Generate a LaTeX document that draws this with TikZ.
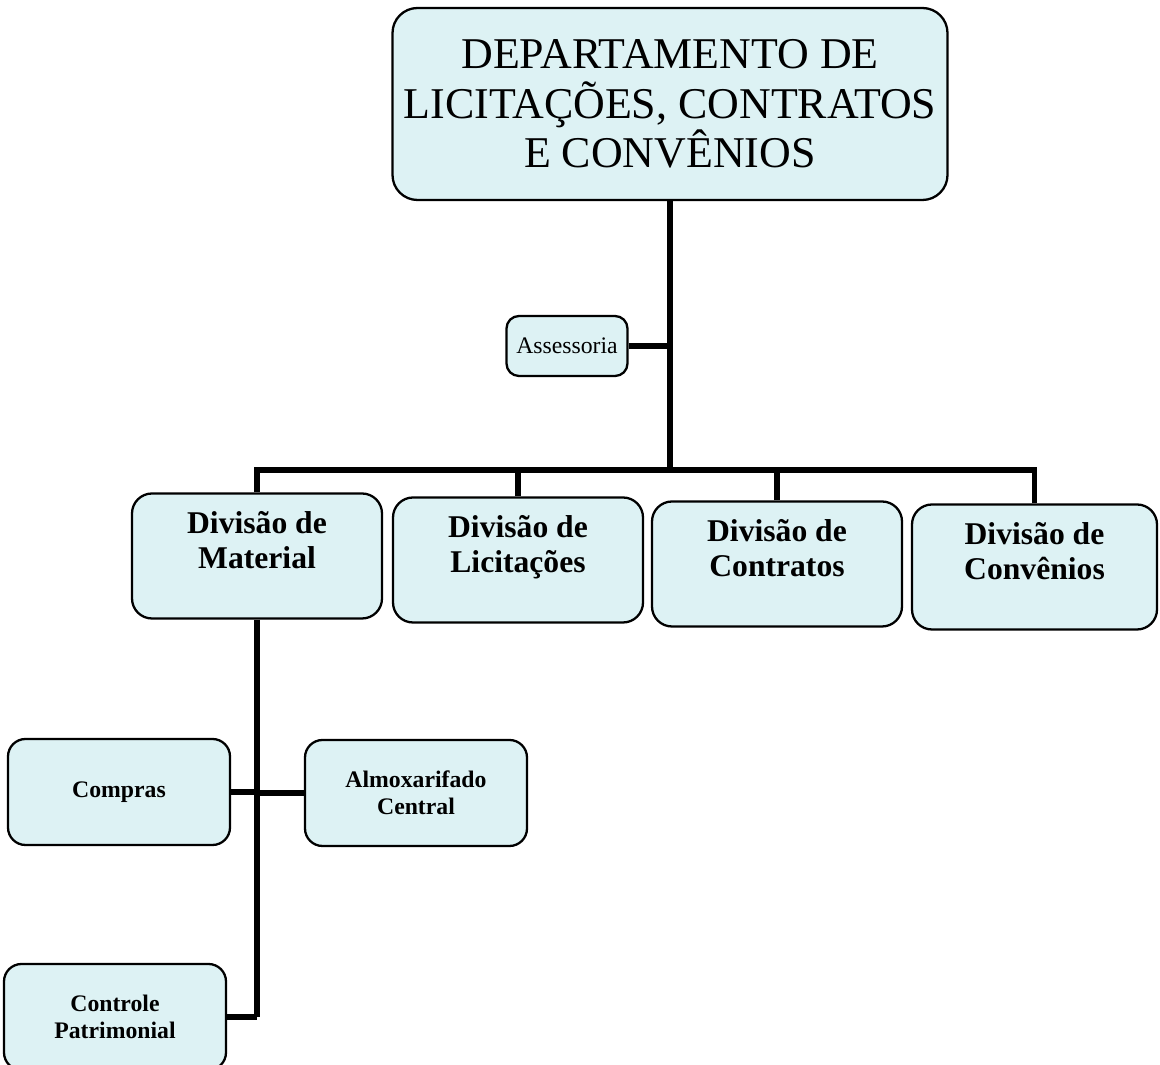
\documentclass[tikz,border=0pt]{standalone}
\usepackage{fontspec}
\setmainfont{Liberation Serif}
\usetikzlibrary{positioning}
\definecolor{boxfill}{RGB}{221,242,244}

\begin{document}
\begin{tikzpicture}[
		box/.style={draw,fill=boxfill,line width=1.3pt,align=center,inner sep=0pt},
		topbox/.style={box,rounded corners=0.5cm,minimum width=11.1cm,minimum height=3.84cm,font=\fontsize{25}{28}\selectfont},
		assbox/.style={box,rounded corners=0.25cm,minimum width=2.42cm,minimum height=1.2cm,font=\fontsize{13.5}{15}\selectfont},
		divbox/.style={box,rounded corners=0.4cm,minimum width=5cm,minimum height=2.5cm,text depth=0.65cm,font=\bfseries\fontsize{18}{20}\selectfont},
		subbox/.style={box,rounded corners=0.35cm,minimum width=4.44cm,minimum height=2.12cm,font=\bfseries\fontsize{13.5}{15.5}\selectfont},
		conn/.style={line width=2.9pt}]
		
		\useasboundingbox (0,0) rectangle (23.2,21.3);
		
		\coordinate (bar) at (0,11.9);
		
		\node[topbox] (dep) at (13.4,19.22) {DEPARTAMENTO DE\\LICITAÇÕES, CONTRATOS\\E CONVÊNIOS};
		\node[assbox] (ass) at (11.34,14.38) {Assessoria};
		
		\node[divbox] (mat) at (5.14,10.18) {Divisão de\\Material};
		\node[divbox] (lic) at (10.36,10.10) {Divisão de\\Licitações};
		\node[divbox] (con) at (15.54,10.02) {Divisão de\\Contratos};
		\node[divbox,minimum width=4.9cm] (cvn) at (20.69,9.96) {Divisão de\\Convênios};
		
		\node[subbox] (comp) at (2.38,5.46) {Compras};
		\node[subbox] (alm) at (8.32,5.44) {Almoxarifado\\Central};
		\node[subbox] (pat) at (2.30,0.96) {Controle\\Patrimonial};
		
		% tronco
		\draw[conn] (dep.south) -- (dep.south |- bar);
		\draw[conn] (ass.east) -- (ass.east -| dep.south);
		\draw[conn] (mat.north) |- (dep.south |- bar);
		\draw[conn] (lic.north) |- (dep.south |- bar);
		\draw[conn] (con.north) |- (dep.south |- bar);
		\draw[conn] (cvn.north) |- (dep.south |- bar);
		
		% material
		\draw[conn] (mat.south) -- (mat.south |- pat.east);
		\draw[conn] (comp.east) -- (comp.east -| mat.south);
		\draw[conn] (alm.west) -- (alm.west -| mat.south);
		\draw[conn] (pat.east) -- (pat.east -| mat.south);
		
	\end{tikzpicture}
\end{document}
